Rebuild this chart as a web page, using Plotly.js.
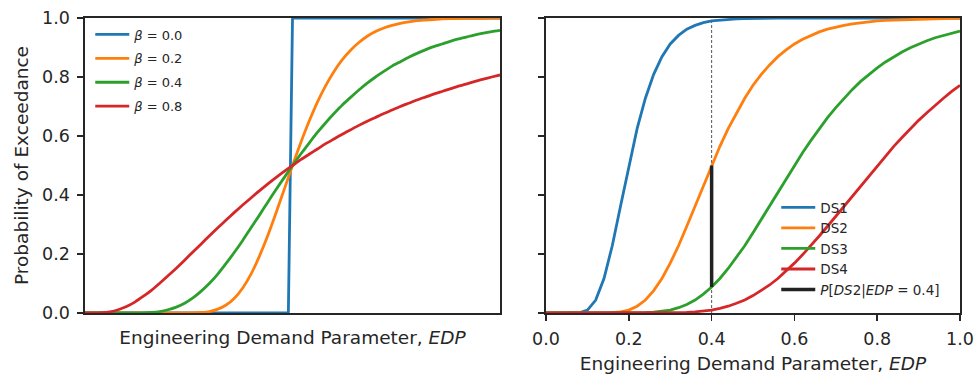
<!DOCTYPE html>
<html>
<head>
<meta charset="utf-8">
<script src="https://cdn.plot.ly/plotly-3.0.1.min.js"></script>
<style>html,body{margin:0;padding:0;background:#fff;}#chart{width:974px;height:374px;}</style>
</head>
<body>
<div id="chart"></div>
<script>
// x grid (Engineering Demand Parameter)
const edp = [0,0.02,0.04,0.06,0.08,0.10,0.12,0.14,0.16,0.18,0.20,0.22,0.24,0.26,0.28,0.30,0.32,0.34,0.36,0.38,0.40,0.42,0.44,0.46,0.48,0.50,0.52,0.54,0.56,0.58,0.60,0.62,0.64,0.66,0.68,0.70,0.72,0.74,0.76,0.78,0.80,0.82,0.84,0.86,0.88,0.90,0.92,0.94,0.96,0.98,1.00];

// Left panel: median 0.5, different dispersions
const beta0X = [0, 0.49, 0.50, 1.0];
const beta0Y = [0, 0, 1, 1];
const beta02 = [0,0,0,0,0,0,0,0,0,0,0,0,0.0001,0.0005,0.002,0.005,0.013,0.027,0.050,0.085,0.132,0.192,0.261,0.338,0.419,0.500,0.578,0.650,0.715,0.771,0.819,0.859,0.891,0.917,0.938,0.954,0.966,0.975,0.982,0.987,0.991,0.993,0.995,0.997,0.998,0.998,0.999,0.999,0.999,1.0,1.0];
const beta04 = [0,0,0,0,0,0,0.0002,0.0007,0.002,0.005,0.011,0.020,0.033,0.051,0.074,0.101,0.132,0.168,0.206,0.246,0.289,0.331,0.375,0.418,0.459,0.500,0.539,0.576,0.612,0.645,0.676,0.705,0.731,0.756,0.779,0.800,0.819,0.837,0.852,0.867,0.880,0.892,0.903,0.912,0.921,0.929,0.936,0.943,0.949,0.954,0.958];
const beta08 = [0,0.00003,0.001,0.004,0.011,0.022,0.037,0.056,0.077,0.101,0.126,0.152,0.179,0.207,0.234,0.262,0.289,0.315,0.341,0.366,0.390,0.414,0.437,0.459,0.480,0.500,0.520,0.538,0.556,0.574,0.590,0.606,0.621,0.636,0.650,0.663,0.676,0.688,0.700,0.711,0.722,0.732,0.742,0.751,0.760,0.769,0.777,0.785,0.793,0.800,0.807];
const leftNames = ['<i>β</i> = 0.0','<i>β</i> = 0.2','<i>β</i> = 0.4','<i>β</i> = 0.8'];

// Right panel: damage states
const ds1 = [0,0,0,0,0.001,0.010,0.044,0.117,0.228,0.363,0.500,0.625,0.728,0.809,0.869,0.912,0.941,0.962,0.975,0.984,0.990,0.993,0.996,0.997,0.998,0.999,0.999,1,1,1,1,1,1,1,1,1,1,1,1,1,1,1,1,1,1,1,1,1,1,1,1];
const ds2 = [0,0,0,0,0,0,0,0.0002,0.001,0.004,0.010,0.023,0.044,0.076,0.117,0.169,0.228,0.294,0.363,0.432,0.500,0.565,0.625,0.679,0.728,0.772,0.809,0.841,0.869,0.892,0.912,0.928,0.941,0.953,0.962,0.969,0.975,0.980,0.984,0.987,0.990,0.992,0.993,0.995,0.996,0.997,0.997,0.998,0.998,0.999,0.999];
const ds3 = [0,0,0,0,0,0,0,0,0,0,0.0001,0.0004,0.001,0.003,0.006,0.010,0.018,0.029,0.044,0.064,0.088,0.117,0.151,0.188,0.228,0.272,0.317,0.363,0.409,0.455,0.500,0.544,0.585,0.625,0.662,0.696,0.728,0.758,0.785,0.809,0.831,0.851,0.869,0.885,0.899,0.912,0.923,0.933,0.941,0.949,0.956];
const ds4 = [0,0,0,0,0,0,0,0,0,0,0,0,0,0,0,0.0005,0.001,0.002,0.004,0.007,0.010,0.016,0.023,0.033,0.044,0.059,0.076,0.095,0.117,0.142,0.169,0.198,0.228,0.261,0.294,0.328,0.363,0.397,0.432,0.466,0.500,0.533,0.565,0.595,0.625,0.653,0.679,0.705,0.728,0.751,0.772];
const rightNames = ['DS1','DS2','DS3','DS4'];

// Probability of DS2 given EDP = 0.4
const probX = [0.4, 0.4];
const probY = [0.088, 0.500];
const probName = '<i>P</i>[<i>DS</i>2|<i>EDP</i> = 0.4]';
const guideX = [0.4, 0.4];
const guideY = [0, 0.990];

const yTicks = [0,0.2,0.4,0.6,0.8,1.0];
const yTickText = ['0.0','0.2','0.4','0.6','0.8','1.0'];
const xTicks = [0,0.2,0.4,0.6,0.8,1.0];
const xTickText = ['0.0','0.2','0.4','0.6','0.8','1.0'];

const colors = ['#1f77b4','#ff7f0e','#2ca02c','#d62728'];
const LW = 2.8;
const ink = '#262626';

const traces = [];
traces.push({x: beta0X, y: beta0Y, name: leftNames[0], mode:'lines', line:{color:colors[0], width:LW}, xaxis:'x', yaxis:'y', legend:'legend', legendgroup:'a0'});
[beta02, beta04, beta08].forEach((s,i)=>{
  traces.push({x: edp, y: s, name: leftNames[i+1], mode:'lines', line:{color:colors[i+1], width:LW, shape:'spline', smoothing:0.6}, xaxis:'x', yaxis:'y', legend:'legend', legendgroup:'a'+(i+1)});
});
traces.push({x: guideX, y: guideY, mode:'lines', line:{color:'#555555', width:1, dash:'3px,2px'}, xaxis:'x2', yaxis:'y2', showlegend:false, hoverinfo:'skip'});
[ds1, ds2, ds3, ds4].forEach((s,i)=>{
  traces.push({x: edp, y: s, name: rightNames[i], mode:'lines', line:{color:colors[i], width:LW}, xaxis:'x2', yaxis:'y2', legend:'legend2', legendgroup:'b'+i});
});
traces.push({x: probX, y: probY, name: probName, mode:'lines', line:{color:'#222222', width:3.5}, xaxis:'x2', yaxis:'y2', legend:'legend2', legendgroup:'b4'});

const axisCommon = {showline:true, linecolor:ink, linewidth:1.6, mirror:true, showgrid:false, zeroline:false, range:[0,1], fixedrange:true,
  tickfont:{family:'DejaVu Sans', size:17.5, color:ink}, tickcolor:ink, tickwidth:1.5, ticklen:6};

const layout = {
  width:974, height:374,
  margin:{l:85, r:14, t:18, b:61},
  paper_bgcolor:'#fff', plot_bgcolor:'#fff',
  font:{family:'DejaVu Sans', color:ink},
  showlegend:true,
  xaxis: Object.assign({}, axisCommon, {domain:[0,0.4743], ticks:'', showticklabels:false,
    title:{text:'Engineering Demand Parameter, <i>EDP</i>', font:{size:18.5, color:ink}, standoff:17}}),
  yaxis: Object.assign({}, axisCommon, {domain:[0,1], ticks:'outside', tickvals:yTicks, ticktext:yTickText, anchor:'x', ticklabelstandoff:4,
    title:{text:'Probability of Exceedance', font:{size:18.5, color:ink}, standoff:8}}),
  xaxis2: Object.assign({}, axisCommon, {domain:[0.5269,1], anchor:'y2', ticks:'outside', tickvals:xTicks, ticktext:xTickText, ticklabelstandoff:3,
    title:{text:'Engineering Demand Parameter, <i>EDP</i>', font:{size:18.5, color:ink}, standoff:10}}),
  yaxis2: Object.assign({}, axisCommon, {domain:[0,1], anchor:'x2', ticks:'outside', tickvals:yTicks, showticklabels:false}),
  legend:{x:0.006, y:0.995, xanchor:'left', yanchor:'top', bgcolor:'rgba(0,0,0,0)', font:{size:13, color:ink}, tracegroupgap:4, itemwidth:34},
  legend2:{x:0.79, y:0.41, xanchor:'left', yanchor:'top', bgcolor:'rgba(0,0,0,0)', font:{size:13.5, color:ink}, tracegroupgap:0, itemwidth:34}
};

Plotly.newPlot('chart', traces, layout, {staticPlot:true, displayModeBar:false});
</script>
</body>
</html>
